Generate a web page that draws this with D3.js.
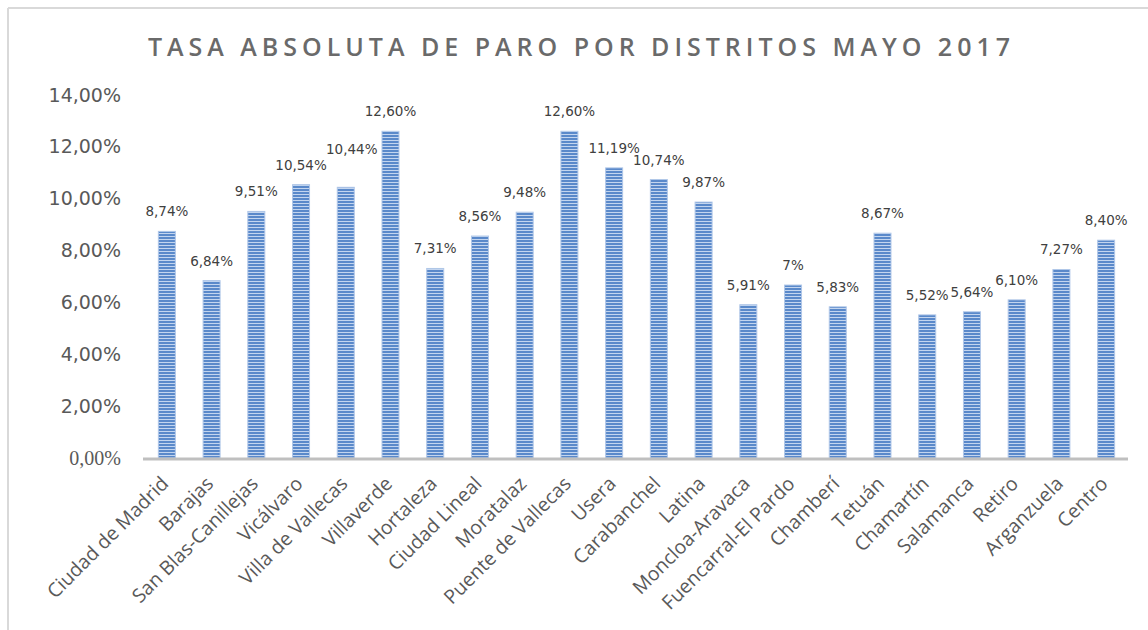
<!DOCTYPE html>
<html>
<head>
<meta charset="utf-8">
<script src="https://cdn.jsdelivr.net/npm/d3@7"></script>
<style>
  body { margin: 0; background: #fff; }
</style>
</head>
<body>
<div id="chart"></div>
<script>
// datos
var distritos = [
  "Ciudad de Madrid", "Barajas", "San Blas-Canillejas", "Vicálvaro",
  "Villa de Vallecas", "Villaverde", "Hortaleza", "Ciudad Lineal",
  "Moratalaz", "Puente de Vallecas", "Usera", "Carabanchel", "Latina",
  "Moncloa-Aravaca", "Fuencarral-El Pardo", "Chamberí", "Tetuán",
  "Chamartín", "Salamanca", "Retiro", "Arganzuela", "Centro"
];
var tasa = [
  8.74, 6.84, 9.51, 10.54, 10.44, 12.60, 7.31, 8.56, 9.48, 12.60, 11.19,
  10.74, 9.87, 5.91, 6.67, 5.83, 8.67, 5.52, 5.64, 6.10, 7.27, 8.40
];
var etiquetas = [
  "8,74%", "6,84%", "9,51%", "10,54%", "10,44%", "12,60%", "7,31%", "8,56%",
  "9,48%", "12,60%", "11,19%", "10,74%", "9,87%", "5,91%", "7%", "5,83%",
  "8,67%", "5,52%", "5,64%", "6,10%", "7,27%", "8,40%"
];
var ticksY = [0, 2, 4, 6, 8, 10, 12, 14];
var titulo = "TASA ABSOLUTA DE PARO POR DISTRITOS MAYO 2017";

var w = 1148;
var h = 630;

var svg = d3.select("#chart")
  .append("svg")
  .attr("width", w)
  .attr("height", h);

// patron de rayas de las barras
var defs = svg.append("defs");
var pat = defs.append("pattern")
  .attr("id", "rayas")
  .attr("patternUnits", "userSpaceOnUse")
  .attr("width", 4)
  .attr("height", 3);
pat.append("rect").attr("width", 4).attr("height", 3).attr("fill", "#5a89ca");
pat.append("rect").attr("y", 2).attr("width", 4).attr("height", 1).attr("fill", "#c3d5ef");

// marco
svg.append("line")
  .attr("x1", 8).attr("y1", 8).attr("x2", w).attr("y2", 8)
  .attr("stroke", "#d9d9d9").attr("stroke-width", 2);
svg.append("line")
  .attr("x1", 8).attr("y1", 8).attr("x2", 8).attr("y2", h)
  .attr("stroke", "#d9d9d9").attr("stroke-width", 2);

// titulo
svg.append("text")
  .text(titulo)
  .attr("x", 148)
  .attr("y", 56)
  .attr("textLength", 862)
  .attr("lengthAdjust", "spacing")
  .attr("font-family", "'Open Sans', sans-serif")
  .attr("font-size", "25px")
  .attr("font-weight", 600)
  .attr("fill", "#6a6a6a");

var xScale = d3.scaleBand()
  .domain(distritos)
  .range([144.5, 1128.5])
  .paddingInner(0.62)
  .paddingOuter(0.31);

var yScale = d3.scaleLinear()
  .domain([0, 14])
  .range([458, 95]);

// eje Y
var yAxis = d3.axisLeft(yScale)
  .tickValues(ticksY)
  .tickSize(0)
  .tickPadding(0)
  .tickFormat(function(d) { return d3.format(".2f")(d).replace(".", ",") + "%"; });

var gy = svg.append("g")
  .attr("transform", "translate(121,0)")
  .call(yAxis);
gy.select(".domain").remove();
gy.selectAll("text")
  .attr("font-family", function(d) { return d == 0 ? "'Liberation Serif', serif" : "'DejaVu Sans', sans-serif"; })
  .attr("font-size", function(d) { return d == 0 ? "20px" : "19px"; })
  .attr("fill", "#595959");

// barras
svg.selectAll("rect.bar")
  .data(tasa)
  .enter()
  .append("rect")
  .attr("class", "bar")
  .attr("x", function(d, i) { return xScale(distritos[i]); })
  .attr("y", function(d) { return yScale(d); })
  .attr("width", xScale.bandwidth())
  .attr("height", function(d) { return yScale(0) - yScale(d); })
  .attr("fill", "url(#rayas)")
  .attr("stroke", "#b0c7e8")
  .attr("stroke-width", 1);

// eje X
svg.append("line")
  .attr("x1", 143).attr("x2", 1128)
  .attr("y1", yScale(0) + 1).attr("y2", yScale(0) + 1)
  .attr("stroke", "#bfbfbf")
  .attr("stroke-width", 3);

// etiquetas de valores (la de Villa de Vallecas esta desplazada en el original)
var ajuste = { 4: [6, -18] };
svg.selectAll("text.valor")
  .data(tasa)
  .enter()
  .append("text")
  .attr("class", "valor")
  .text(function(d, i) { return etiquetas[i]; })
  .attr("x", function(d, i) {
    var dx = ajuste[i] ? ajuste[i][0] : 0;
    return xScale(distritos[i]) + xScale.bandwidth() / 2 + dx;
  })
  .attr("y", function(d, i) {
    var dy = ajuste[i] ? ajuste[i][1] : 0;
    return yScale(d) - 15 + dy;
  })
  .attr("text-anchor", "middle")
  .attr("font-family", "'DejaVu Sans', sans-serif")
  .attr("font-size", "13.5px")
  .attr("fill", "#404040");

// nombres de distritos
svg.selectAll("text.cat")
  .data(distritos)
  .enter()
  .append("text")
  .attr("class", "cat")
  .text(function(d) { return d; })
  .attr("transform", function(d) {
    var cx = xScale(d) + xScale.bandwidth() / 2;
    return "translate(" + (cx - 7) + ",475) rotate(-45)";
  })
  .attr("dy", "0.72em")
  .attr("text-anchor", "end")
  .attr("font-family", "'Open Sans', sans-serif")
  .attr("font-size", "19.5px")
  .attr("fill", "#595959");
</script>
</body>
</html>
